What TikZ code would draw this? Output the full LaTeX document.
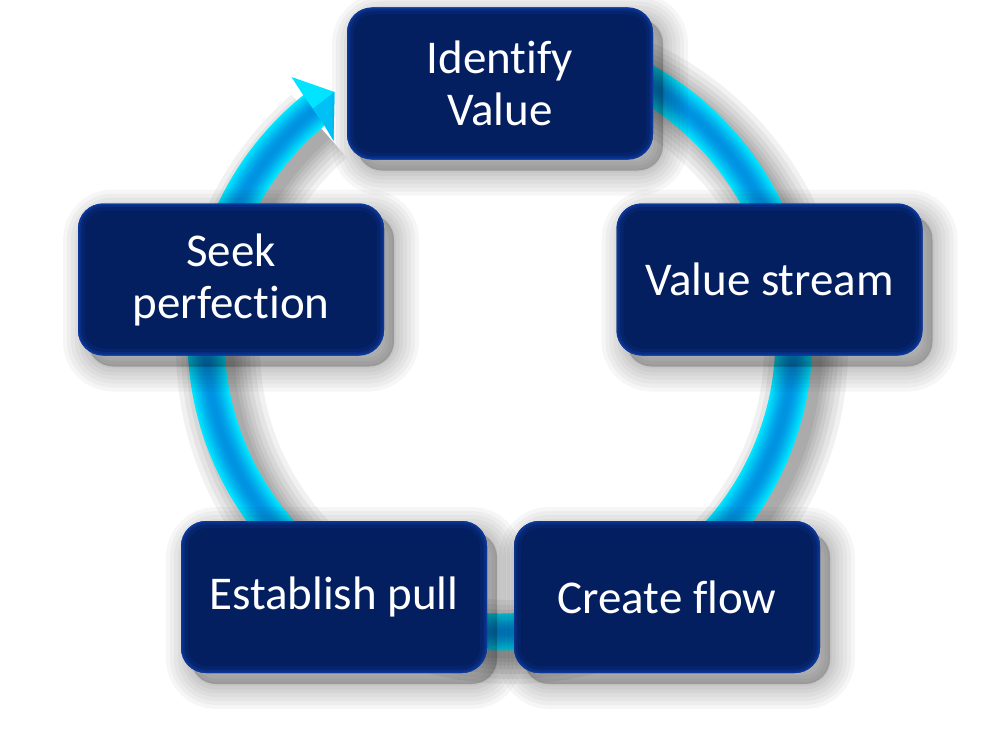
\documentclass[tikz,border=0pt]{standalone}
\usepackage{fontspec}
\setmainfont{Carlito}[Ligatures={NoCommon}]
\definecolor{navy}{RGB}{4,31,96}
\definecolor{edgeblue}{RGB}{14,62,168}
\definecolor{ringA}{RGB}{0,228,255}
\definecolor{ringD}{RGB}{0,140,224}
\definecolor{headA}{RGB}{0,228,255}
\definecolor{headB}{RGB}{0,192,246}
\tikzset{
  shadowlayer/.style={preaction={draw=black, fill=black, opacity=.034, line width=#1, transform canvas={shift={(10pt,-11pt)}}}},
  stagebox/.style={
    rectangle, rounded corners=25pt, minimum width=306pt, minimum height=152pt,
    inner sep=0pt, fill=navy, text=white, align=center,
    font=\fontsize{47}{52}\selectfont,
    shadowlayer=50pt, shadowlayer=42pt, shadowlayer=34pt, shadowlayer=26pt,
    shadowlayer=18pt, shadowlayer=11pt, shadowlayer=4pt,
    path picture={
      \draw[edgeblue, opacity=.18, line width=14pt, rounded corners=25pt]
        (path picture bounding box.south west) rectangle (path picture bounding box.north east);
      \draw[edgeblue, opacity=.35, line width=7pt, rounded corners=25pt]
        (path picture bounding box.south west) rectangle (path picture bounding box.north east);
      \draw[edgeblue, opacity=.6, line width=3pt, rounded corners=25pt]
        (path picture bounding box.south west) rectangle (path picture bounding box.north east);
    }
  },
  ringshadow/.style={draw=black, opacity=.055, line cap=butt},
  ring/.style={line cap=butt}
}
\begin{document}
\begin{tikzpicture}[x=1pt,y=-1pt]
\useasboundingbox (0,0) rectangle (1000,733);
\coordinate (c) at (500,338);
% ring shadow
\foreach \w in {84,74,64,55,47,40,33}{
  \draw[ringshadow, line width=\w pt] ([shift={(12,10)}]c) ++(-90:294) arc[start angle=-90, end angle=229, radius=294];
}
% ring tube (graded from bright edges to deeper centre)
\foreach \w/\p in {37/0,33/14,29/28,25/42,21/56,17/68,13/78,9/86,5/92}{
  \draw[ring, ringD!\p!ringA, line width=\w pt] (c) ++(-90:294) arc[start angle=-90, end angle=232, radius=294];
}
% arrow head
\coordinate (tip) at (334.5,92);
\coordinate (b1) at (291.5,77);
\coordinate (n1) at (302.5,94);
\coordinate (mid) at (313,108.5);
\coordinate (n2) at (323,123);
\coordinate (b2) at (333.5,140.5);
\fill[headA] (tip) -- (b1) -- (n1) -- (n2) -- (b2) -- cycle;
\fill[headB] (tip) -- (mid) -- (n2) -- (b2) -- cycle;
% stages
\node[stagebox] (iv) at (500,83.5) {Identify\\Value};
\node[stagebox] (vs) at (769.5,279.5) {Value stream};
\node[stagebox] (cf) at (667,597) {Create flow};
\node[stagebox] (ep) at (334,597) {Establish pull};
\node[stagebox] (sp) at (231,279.5) {Seek\\perfection};
\end{tikzpicture}
\end{document}
